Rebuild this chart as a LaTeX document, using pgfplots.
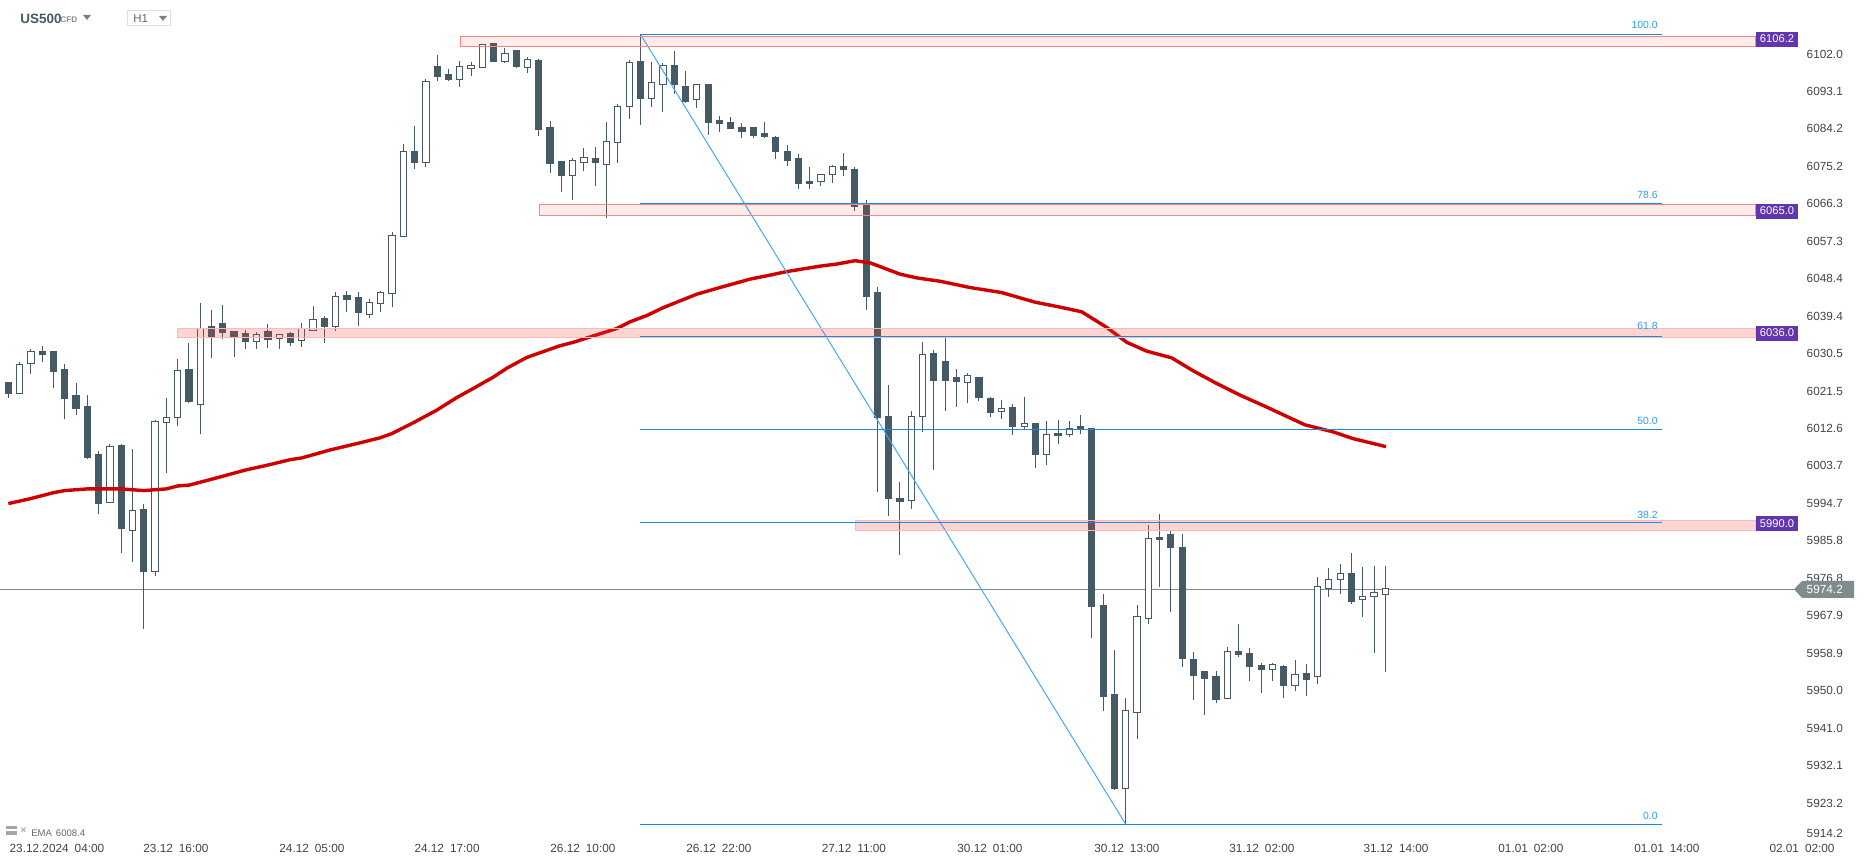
\documentclass[border=0pt]{standalone}
\usepackage{fontspec}
\setmainfont{Liberation Sans}
\usepackage{xcolor}
\usepackage{pgfplots}
\pgfplotsset{compat=1.18}

\definecolor{candle}{HTML}{455A64}
\definecolor{emared}{HTML}{CF0000}
\definecolor{fibo}{HTML}{1E88E5}
\definecolor{fibotxt}{HTML}{2E9BF5}
\definecolor{diag}{HTML}{3FA9F5}
\definecolor{zone}{HTML}{F44336}
\definecolor{zoneedge}{HTML}{F88686}
\definecolor{zoneedgeb}{HTML}{FBB9B9}
\definecolor{tagpurple}{HTML}{6035AE}
\definecolor{lastgray}{HTML}{808B8D}
\definecolor{ticktxt}{HTML}{3F4448}

% i, low, body bottom, body top, high
\newcommand\candlebar[6]{%
  \pgfmathsetmacro\xl{#2-0.275}\pgfmathsetmacro\xr{#2+0.275}%
  \addplot[draw=candle,line width=0.5pt] coordinates {(#2,#3)(#2,#6)};
  \addplot[draw=candle,fill=#1,line width=0.5pt] coordinates {(\xl,#4)(\xr,#4)(\xr,#5)(\xl,#5)} --cycle;
}
\newcommand\up{\candlebar{white}}
\newcommand\dn{\candlebar{candle}}
% left i, low price, high price
\newcommand\zonea[3]{\addplot[draw=zoneedge,line width=0.5pt,fill=zone,fill opacity=0.1] coordinates {(#1,#2)(154.8,#2)(154.8,#3)(#1,#3)} --cycle;}
\newcommand\zoneb[3]{\addplot[draw=zoneedgeb,line width=0.5pt,fill=zone,fill opacity=0.22] coordinates {(#1,#2)(154.8,#2)(154.8,#3)(#1,#3)} --cycle;}
\newcommand\level[1]{\addplot[fibo,line width=0.5pt] coordinates {(56,#1)(146.5,#1)};}

\begin{document}
\begin{tikzpicture}[x=0.5pt,y=0.5pt]
\path[use as bounding box] (0,0) rectangle (1866,865);
\begin{axis}[
    at={(0pt,12.5pt)}, anchor=south west,
    scale only axis, width=901pt, height=420pt,
    xmin=-0.738, xmax=158.92, ymin=5914.35, ymax=6114.97,
    clip=false,
    axis line style={draw=none},
    major tick length=0pt,
    tick style={draw=none},
    xtick={4.31,14.85,26.9,38.87,50.91,62.96,74.92,86.97,99.11,111.07,122.95,134.9,146.95,158.92},
    xticklabels={23.12.2024\hspace{3pt}04:00,23.12\hspace{3pt}16:00,24.12\hspace{3pt}05:00,24.12\hspace{3pt}17:00,26.12\hspace{3pt}10:00,26.12\hspace{3pt}22:00,27.12\hspace{3pt}11:00,30.12\hspace{3pt}01:00,30.12\hspace{3pt}13:00,31.12\hspace{3pt}02:00,31.12\hspace{3pt}14:00,01.01\hspace{3pt}02:00,01.01\hspace{3pt}14:00,02.01\hspace{3pt}02:00},
    ytick={6102.0,6093.1,6084.2,6075.2,6066.3,6057.3,6048.4,6039.4,6030.5,6021.5,6012.6,6003.7,5994.7,5985.8,5976.8,5967.9,5958.9,5950.0,5941.0,5932.1,5923.2,5915.8},
    yticklabels={6102.0,6093.1,6084.2,6075.2,6066.3,6057.3,6048.4,6039.4,6030.5,6021.5,6012.6,6003.7,5994.7,5985.8,5976.8,5967.9,5958.9,5950.0,5941.0,5932.1,5923.2,5914.2},
    yticklabel pos=right,
    tick label style={font=\fontsize{5.9}{7}\selectfont,text=ticktxt,inner sep=0pt},
    yticklabel style={anchor=west,xshift=2.15pt},
    xticklabel style={anchor=north,yshift=-1.75pt},
]
\addplot[lastgray,line width=0.5pt,forget plot] coordinates {(-0.738,5974.2)(158.2,5974.2)};
\dn{0}{6019.8}{6020.9}{6023.5}{6023.7}
\up{1}{6021.0}{6021.0}{6028.0}{6028.4}
\up{2}{6025.7}{6028.2}{6031.1}{6031.5}
\dn{3}{6028.6}{6030.3}{6030.9}{6032.3}
\dn{4}{6022.4}{6026.2}{6030.9}{6031.1}
\dn{5}{6015.0}{6019.8}{6026.8}{6028.0}
\dn{6}{6015.9}{6017.4}{6020.6}{6023.5}
\dn{7}{6005.4}{6005.7}{6017.8}{6020.6}
\dn{8}{5992.3}{5994.7}{6006.3}{6007.2}
\up{9}{5995.0}{5995.0}{6008.4}{6008.9}
\dn{10}{5983.0}{5988.7}{6008.5}{6008.9}
\up{11}{5980.8}{5988.3}{5993.1}{6007.7}
\dn{12}{5964.8}{5978.4}{5993.2}{5994.6}
\up{13}{5977.5}{5978.5}{6014.3}{6014.6}
\up{14}{6002.1}{6014.1}{6015.3}{6019.9}
\up{15}{6013.3}{6015.3}{6026.5}{6029.2}
\dn{16}{6018.6}{6019.0}{6026.6}{6033.0}
\up{17}{6011.4}{6018.4}{6036.6}{6042.6}
\dn{18}{6029.5}{6034.6}{6036.9}{6040.9}
\dn{19}{6033.9}{6035.5}{6037.6}{6042.1}
\dn{20}{6029.8}{6034.6}{6035.9}{6035.9}
\dn{21}{6031.5}{6033.4}{6035.2}{6036.2}
\up{22}{6031.7}{6033.5}{6035.1}{6035.7}
\dn{23}{6031.9}{6033.9}{6035.7}{6037.6}
\up{24}{6031.7}{6034.2}{6035.1}{6035.1}
\dn{25}{6032.4}{6033.1}{6035.2}{6035.7}
\up{26}{6032.2}{6033.7}{6036.5}{6037.8}
\up{27}{6036.1}{6036.1}{6038.7}{6041.9}
\dn{28}{6033.1}{6037.0}{6039.0}{6039.4}
\up{29}{6036.0}{6037.0}{6044.2}{6045.2}
\dn{30}{6040.5}{6043.4}{6044.5}{6045.5}
\dn{31}{6037.0}{6040.3}{6044.0}{6045.2}
\up{32}{6039.1}{6039.9}{6042.8}{6043.5}
\up{33}{6040.5}{6042.5}{6045.2}{6045.5}
\up{34}{6041.7}{6044.9}{6058.8}{6059.6}
\up{35}{6058.5}{6058.5}{6078.8}{6080.6}
\dn{36}{6074.5}{6076.1}{6078.7}{6084.9}
\up{37}{6075.2}{6076.2}{6095.5}{6096.0}
\dn{38}{6095.7}{6096.7}{6099.0}{6101.8}
\dn{39}{6095.7}{6096.0}{6097.1}{6098.5}
\up{40}{6094.3}{6096.0}{6099.1}{6100.3}
\up{41}{6096.9}{6098.7}{6099.4}{6100.1}
\up{42}{6098.9}{6098.9}{6104.4}{6104.4}
\dn{43}{6100.3}{6100.3}{6104.5}{6104.5}
\up{44}{6100.0}{6100.3}{6102.2}{6103.5}
\dn{45}{6098.8}{6099.0}{6102.8}{6102.8}
\up{46}{6097.6}{6098.9}{6100.8}{6101.4}
\dn{47}{6082.6}{6084.0}{6100.6}{6100.8}
\dn{48}{6073.7}{6075.9}{6084.6}{6086.1}
\dn{49}{6069.0}{6073.0}{6076.3}{6076.3}
\up{50}{6067.3}{6073.1}{6076.7}{6077.2}
\up{51}{6074.2}{6076.2}{6077.4}{6079.6}
\dn{52}{6070.6}{6076.1}{6077.2}{6079.9}
\up{53}{6063.0}{6075.7}{6081.2}{6085.8}
\up{54}{6076.1}{6081.0}{6089.6}{6090.1}
\up{55}{6086.6}{6089.6}{6100.1}{6100.6}
\dn{56}{6085.2}{6091.4}{6100.2}{6106.6}
\up{57}{6089.5}{6091.5}{6095.3}{6100.2}
\up{58}{6088.3}{6094.8}{6099.4}{6099.9}
\dn{59}{6092.6}{6094.7}{6099.4}{6102.8}
\dn{60}{6090.4}{6090.7}{6094.4}{6098.0}
\up{61}{6089.2}{6091.2}{6094.8}{6094.8}
\dn{62}{6082.8}{6085.7}{6094.7}{6094.7}
\dn{63}{6083.5}{6085.4}{6086.1}{6087.3}
\dn{64}{6084.2}{6084.2}{6085.8}{6087.0}
\dn{65}{6082.1}{6083.5}{6084.4}{6085.6}
\dn{66}{6082.1}{6082.6}{6084.4}{6084.6}
\dn{67}{6082.1}{6082.3}{6083.0}{6085.8}
\dn{68}{6077.1}{6078.7}{6082.2}{6082.5}
\dn{69}{6075.4}{6076.6}{6078.9}{6080.3}
\dn{70}{6069.9}{6071.1}{6077.0}{6078.2}
\dn{71}{6069.9}{6071.1}{6071.7}{6075.1}
\up{72}{6070.6}{6071.6}{6073.3}{6073.3}
\up{73}{6071.3}{6073.3}{6075.2}{6075.5}
\dn{74}{6073.0}{6074.4}{6075.3}{6078.4}
\dn{75}{6064.6}{6065.6}{6074.6}{6075.1}
\dn{76}{6041.0}{6044.1}{6066.0}{6067.2}
\dn{77}{5997.5}{6015.2}{6045.2}{6046.4}
\dn{78}{5991.8}{5995.9}{6015.6}{6023.0}
\dn{79}{5982.5}{5995.1}{5995.8}{5999.8}
\up{80}{5993.5}{5995.4}{6015.5}{6016.7}
\up{81}{6011.9}{6015.5}{6030.3}{6033.3}
\dn{82}{6002.8}{6024.0}{6030.6}{6031.4}
\dn{83}{6016.9}{6024.0}{6028.7}{6034.2}
\dn{84}{6017.8}{6023.8}{6024.9}{6026.8}
\up{85}{6018.8}{6023.6}{6025.3}{6025.8}
\dn{86}{6019.3}{6020.0}{6024.9}{6024.9}
\dn{87}{6015.4}{6016.4}{6019.9}{6020.1}
\up{88}{6015.0}{6016.7}{6017.4}{6019.4}
\dn{89}{6011.1}{6013.0}{6017.7}{6018.5}
\up{90}{6012.4}{6013.0}{6013.8}{6020.1}
\dn{91}{6003.3}{6006.4}{6013.9}{6013.9}
\up{92}{6004.0}{6006.4}{6011.2}{6014.4}
\dn{93}{6009.0}{6010.9}{6011.5}{6014.6}
\up{94}{6010.7}{6011.2}{6012.7}{6014.4}
\dn{95}{6011.4}{6012.5}{6013.0}{6015.8}
\dn{96}{5962.7}{5970.1}{6012.7}{6012.7}
\dn{97}{5945.2}{5948.6}{5970.4}{5973.1}
\dn{98}{5926.3}{5926.6}{5949.0}{5959.7}
\up{99}{5918.1}{5926.7}{5945.3}{5948.2}
\up{100}{5938.4}{5944.8}{5967.7}{5970.4}
\up{101}{5966.0}{5967.3}{5986.4}{5989.6}
\dn{102}{5974.8}{5986.0}{5986.7}{5992.2}
\dn{103}{5968.9}{5984.1}{5987.2}{5988.2}
\dn{104}{5955.7}{5957.6}{5984.1}{5987.4}
\dn{105}{5947.8}{5953.6}{5957.5}{5959.2}
\dn{106}{5944.3}{5952.9}{5954.7}{5954.7}
\dn{107}{5947.1}{5947.8}{5953.3}{5954.7}
\up{108}{5948.2}{5948.2}{5959.4}{5960.4}
\dn{109}{5958.1}{5958.6}{5959.4}{5965.9}
\dn{110}{5952.4}{5955.7}{5959.0}{5960.2}
\dn{111}{5949.5}{5955.0}{5956.1}{5956.6}
\up{112}{5952.4}{5955.1}{5956.3}{5956.6}
\dn{113}{5948.3}{5951.2}{5955.9}{5956.1}
\up{114}{5950.0}{5951.3}{5953.9}{5957.3}
\dn{115}{5948.8}{5952.6}{5954.0}{5956.4}
\up{116}{5951.7}{5953.4}{5974.9}{5977.1}
\up{117}{5972.4}{5974.4}{5976.6}{5979.3}
\up{118}{5973.2}{5976.6}{5978.0}{5980.2}
\dn{119}{5970.8}{5971.2}{5977.9}{5982.9}
\up{120}{5967.7}{5971.8}{5972.5}{5979.5}
\up{121}{5959.1}{5972.5}{5973.5}{5979.8}
\up{122}{5954.5}{5973.0}{5974.4}{5979.8}
% EMA
\addplot[emared,line width=1.7pt,line join=round] coordinates {
(0,5994.7)(2,5995.9)(4,5997.3)(5,5997.8)(7,5998.2)(10,5998.2)(12,5997.8)(14,5998.2)
(15,5998.9)(16,5999.1)(18,6000.5)(21,6002.7)(23,6003.9)(25,6005.2)(26,6005.6)(28.5,6007.5)
(31,6009.1)(32.93,6010.4)(33.97,6011.4)(35.88,6014.0)(37.95,6017.0)(39.72,6020.0)(41.2,6022.2)
(42.97,6024.9)(44.15,6027.0)(45.93,6029.6)(48.88,6032.4)(50.05,6033.2)(52.13,6035.0)(53.9,6036.5)
(55.08,6038.1)(56.56,6039.6)(58.03,6041.5)(60.99,6044.7)(63.05,6046.3)(65.71,6048.3)(67.19,6049.1)
(68.96,6050.1)(71.91,6051.4)(73.39,6051.9)(75.01,6052.7)(76.34,6052.2)(77.52,6051.0)(79,6049.5)
(80.48,6048.6)(82.54,6047.8)(85.2,6046.3)(88,6045.1)(90.96,6042.8)(93.03,6041.7)(95.1,6040.5)
(97.3,6036.8)(99.1,6033.2)(100.86,6031.1)(103.07,6029.5)(104.98,6026.4)(106.9,6023.6)(109.12,6020.6)
(111.2,6018.1)(114.88,6013.5)(117.4,6011.8)(119.16,6010.2)(122.06,6008.3)};
% fibo diagonal
\addplot[diag,line width=0.5pt] coordinates {(56,6106.8)(99,5918.1)};
% zones
\zonea{40.04}{6103.9}{6106.3}
\zonea{47.04}{6063.5}{6066.2}
\zoneb{14.97}{6034.3}{6036.6}
\zoneb{75.04}{5988.3}{5990.7}
% fibo levels
\level{6106.8}
\level{6066.4}
\level{6034.7}
\level{6012.45}
\level{5990.2}
\level{5918.1}
\end{axis}
% level captions
\begin{scope}[every node/.style={font=\fontsize{5.2}{6}\selectfont,text=fibotxt,anchor=east,inner sep=0pt}]
\node at (1658,865-25.3) {100.0};
\node at (1658,865-194.5) {78.6};
\node at (1658,865-326) {61.8};
\node at (1658,865-420.5) {50.0};
\node at (1658,865-514.5) {38.2};
\node at (1658,865-815.5) {0.0};
\end{scope}
% purple price tags
\begin{scope}[every node/.style={font=\fontsize{5.6}{6.5}\selectfont,text=white,inner sep=0pt}]
\fill[tagpurple] (1756,865-32) rectangle (1798,865-46.7);
\node at (1777,865-38.7) {6106.2};
\fill[tagpurple] (1756,865-204) rectangle (1798,865-219);
\node at (1777,865-210.5) {6065.0};
\fill[tagpurple] (1756,865-326) rectangle (1798,865-341);
\node at (1777,865-333) {6036.0};
\fill[tagpurple] (1756,865-516) rectangle (1798,865-531);
\node at (1777,865-523.5) {5990.0};
\end{scope}
% last price tag
\fill[lastgray] (1794,865-589.3) -- (1802,865-581) -- (1854,865-581) -- (1854,865-598) -- (1802,865-598) -- cycle;
\node[font=\fontsize{5.9}{7}\selectfont,text=white,inner sep=0pt,anchor=west] at (1806.3,865-589.3) {5974.2};
% header
\node[font=\bfseries\fontsize{6.75}{8}\selectfont,text=candle,inner sep=0pt,anchor=west] at (20,865-19) {US500};
\node[font=\bfseries\fontsize{4.1}{5}\selectfont,text=black!45,inner sep=0pt,anchor=west] at (60,865-19.5) {CFD};
\fill[gray] (83,865-15) -- (91,865-15) -- (87,865-20) -- cycle;
\draw[black!12,line width=0.5pt] (127.5,865-10.5) rectangle (170.5,865-25.5);
\node[font=\fontsize{5.75}{7}\selectfont,text=black!60,inner sep=0pt,anchor=west] at (133,865-18.5) {H1};
\fill[gray] (159,865-16) -- (167,865-16) -- (163,865-21) -- cycle;
% legend line
\fill[black!35] (6,865-826) rectangle (17,865-829);
\fill[black!35] (6,865-831) rectangle (17,865-835);
\node[font=\bfseries\fontsize{5}{6}\selectfont,text=black!35,inner sep=0pt,anchor=center] at (23.5,865-830.5) {×};
\node[font=\fontsize{4.75}{6}\selectfont,text=black!60,inner sep=0pt,anchor=west] at (31,865-833.5) {EMA\hspace{2pt}6008.4};
\end{tikzpicture}
\end{document}
